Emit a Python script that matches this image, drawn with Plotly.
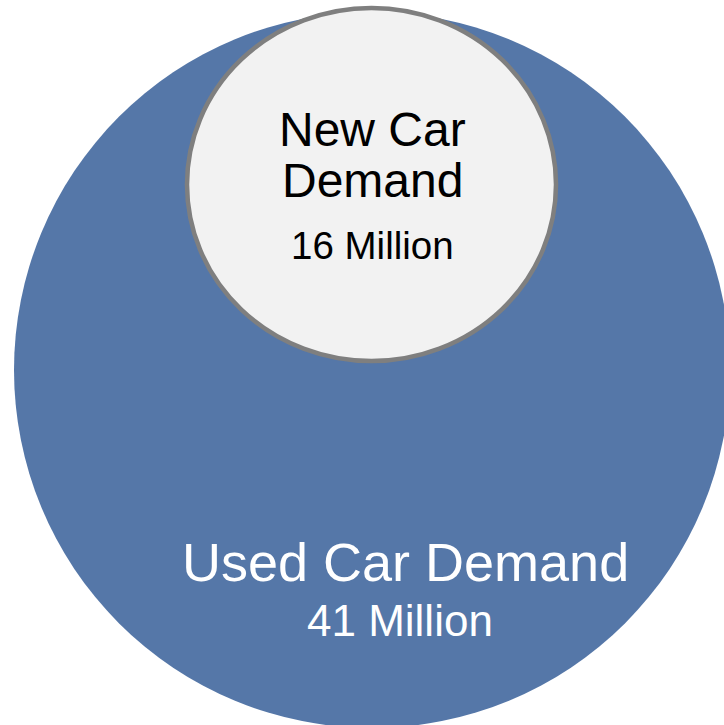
import plotly.graph_objects as go

# Data
segments = ["Used Car Demand", "New Car Demand"]
demand_millions = [41, 16]
units = "Million"

W, H = 724, 725
BLUE = "#5577A8"
GRAY_FILL = "#F2F2F2"
GRAY_LINE = "#7F7F7F"
FONT = "Liberation Sans, Arial, sans-serif"

fig = go.Figure()

# invisible trace to establish axes
fig.add_trace(go.Scatter(x=[0, W], y=[0, H], mode="markers",
                         marker=dict(opacity=0), hoverinfo="skip", showlegend=False))

shapes = [
    dict(type="circle", xref="x", yref="y", x0=14, x1=730, y0=12, y1=728,
         fillcolor=BLUE, line=dict(width=0), layer="below"),
    dict(type="circle", xref="x", yref="y", x0=187, x1=556, y0=8, y1=361,
         fillcolor=GRAY_FILL, line=dict(color=GRAY_LINE, width=4.5), layer="below"),
]

used_label, new_label = segments
new_words = new_label.split(" ")
annotations = [
    dict(x=372, y=129, text=" ".join(new_words[:2]), font=dict(size=48, color="#000000", family=FONT)),
    dict(x=372, y=180, text=new_words[2], font=dict(size=48, color="#000000", family=FONT)),
    dict(x=372, y=245, text=f"{demand_millions[1]} {units}", font=dict(size=38.5, color="#000000", family=FONT)),
    dict(x=405, y=562, text=used_label, font=dict(size=54, color="#FFFFFF", family=FONT)),
    dict(x=400, y=620, text=f"{demand_millions[0]} {units}", font=dict(size=44, color="#FFFFFF", family=FONT)),
]
for a in annotations:
    a.update(xref="x", yref="y", showarrow=False, xanchor="center", yanchor="middle")

fig.update_layout(
    width=W, height=H,
    margin=dict(l=0, r=0, t=0, b=0),
    paper_bgcolor="white", plot_bgcolor="white",
    xaxis=dict(range=[0, W], visible=False, fixedrange=True),
    yaxis=dict(range=[H, 0], visible=False, fixedrange=True),
    shapes=shapes, annotations=annotations,
    showlegend=False,
)

fig.write_html("out.html", config={"displayModeBar": False})
